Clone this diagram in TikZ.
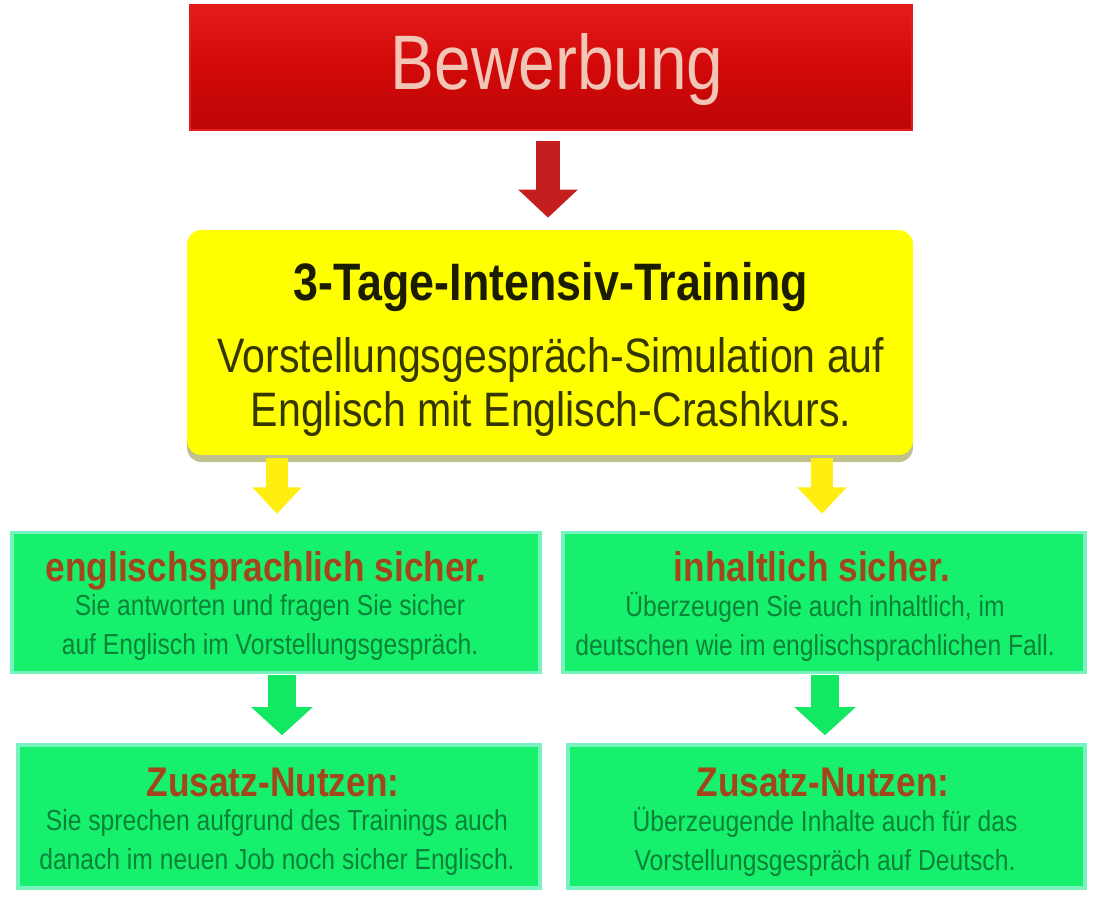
\documentclass[tikz,border=0pt]{standalone}
\usepackage{fontspec}
\setmainfont{Liberation Sans}
\newfontfamily\nar[FakeStretch=0.85]{Liberation Sans}
\usetikzlibrary{arrows.meta,shadows}
\definecolor{redfill}{HTML}{D20808}
\definecolor{redtop}{HTML}{E41C1C}
\definecolor{redtxt}{HTML}{F2C6B6}
\definecolor{redarr}{HTML}{C41E1E}
\definecolor{yelfill}{HTML}{FFFF00}
\definecolor{yelshadow}{HTML}{A8A860}
\definecolor{yeltitle}{HTML}{1C1C00}
\definecolor{yeltxt}{HTML}{363600}
\definecolor{yelarr}{HTML}{FFEE10}
\definecolor{grnfill}{HTML}{16F06C}
\definecolor{grnedge}{HTML}{78F2BE}
\definecolor{grnarr}{HTML}{12E862}
\definecolor{headc}{HTML}{A4461C}
\definecolor{bodyc}{HTML}{0B8238}
\tikzset{
  redbox/.style={draw=redtop, line width=1pt, top color=redtop, bottom color=redfill!90!black, middle color=redfill, inner sep=0pt, minimum width=14.44cm, minimum height=2.5cm},
  yelbox/.style={fill=yelfill, rounded corners=8pt, inner sep=0pt, minimum width=14.52cm, minimum height=4.5cm,
     drop shadow={shadow xshift=0pt, shadow yshift=-4pt, fill=yelshadow, opacity=0.7}},
  grnbox/.style={fill=grnfill, draw=grnedge, line width=2pt, inner sep=0pt, minimum height=2.8cm},
  bigtxt/.style={text=redtxt, font=\nar\fontsize{44}{50}\selectfont, inner sep=0pt},
  ytitle/.style={text=yeltitle, font=\nar\bfseries\fontsize{30}{34}\selectfont, inner sep=0pt},
  ybody/.style={text=yeltxt, font=\nar\fontsize{27.5}{31.3}\selectfont, align=center, inner sep=0pt},
  ghead/.style={text=headc, font=\nar\bfseries\fontsize{23.6}{27}\selectfont, inner sep=0pt, anchor=base},
  gbody/.style={text=bodyc, font=\nar\fontsize{16.5}{22.2}\selectfont, align=center, inner sep=0pt},
  redarrow/.style={draw=redarr, line width=14pt, -{Triangle[width=33pt,length=16pt]}, shorten <=0.2cm, shorten >=0.24cm},
  yelarrow/.style={draw=yelarr, line width=12.5pt, -{Triangle[width=27pt,length=15pt]}, shorten <=0.06cm, shorten >=0.34cm},
  grnarrow/.style={draw=grnarr, line width=16pt, -{Triangle[width=34pt,length=16pt]}, shorten <=0.06cm, shorten >=0.16cm}
}
\begin{document}
\begin{tikzpicture}[x=0.02cm,y=-0.02cm]
\useasboundingbox (0,0) rectangle (1108,900);
\fill[white] (0,0) rectangle (1108,900);

% boxes
\node[redbox] (bew) at (551,67.5) {};
\node[yelbox] (train) at (550,342.5) {};
\node[grnbox, minimum width=10.56cm] (g1) at (276,602.5) {};
\node[grnbox, minimum width=10.44cm] (g2) at (824,602.5) {};
\node[grnbox, minimum width=10.44cm, minimum height=2.86cm] (g3) at (279,816.5) {};
\node[grnbox, minimum width=10.34cm, minimum height=2.86cm] (g4) at (826.5,816.5) {};

% texts
\node[bigtxt] (bewtxt) at (557,70) {Bewerbung};
\node[ytitle] (trtitle) at (551,287) {3-Tage-Intensiv-Training};
\node[ybody] (trbody) at (551,387) {Vorstellungsgespräch-Simulation auf\\Englisch mit Englisch-Crashkurs.};

\node[ghead] (h1) at (266,581) {englischsprachlich sicher.};
\node[gbody] (b1) at (270,627) {Sie antworten und fragen Sie sicher\\auf Englisch im Vorstellungsgespräch.};
\node[ghead] (h2) at (812,581) {inhaltlich sicher.};
\node[gbody] (b2) at (815,627) {Überzeugen Sie auch inhaltlich, im\\deutschen wie im englischsprachlichen Fall.};

\node[ghead] (h3) at (273,796) {Zusatz-Nutzen:};
\node[gbody] (b3) at (277,842) {Sie sprechen aufgrund des Trainings auch\\danach im neuen Job noch sicher Englisch.};
\node[ghead] (h4) at (823,796) {Zusatz-Nutzen:};
\node[gbody] (b4) at (825,842) {Überzeugende Inhalte auch für das\\Vorstellungsgespräch auf Deutsch.};

% connectors
\coordinate (ya) at (277,455);
\coordinate (yb) at (822,455);
\coordinate (ga) at (282,672);
\coordinate (gb) at (825,672);
\draw[redarrow] (bew.south -| 548,0) -- (train.north -| 548,0);
\draw[yelarrow] (ya) -- (ya |- g1.north);
\draw[yelarrow] (yb) -- (yb |- g2.north);
\draw[grnarrow] (ga) -- (ga |- g3.north);
\draw[grnarrow] (gb) -- (gb |- g4.north);
\end{tikzpicture}
\end{document}
